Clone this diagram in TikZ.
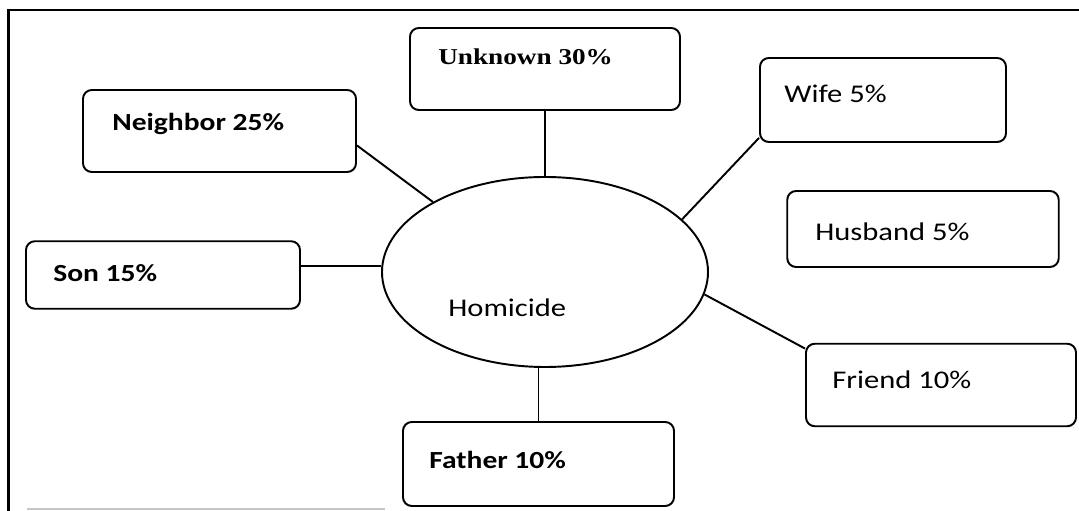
\documentclass[tikz,border=0pt]{standalone}
\usepackage{fontspec}
\usepackage{tikz}
\usetikzlibrary{calc, shapes, positioning}
\newfontfamily\calfont[FakeStretch=1.2]{Carlito}
\newfontfamily\camfont[FakeStretch=1.2]{Liberation Serif}
\tikzstyle{entry} = [rectangle, draw, line width=1.1pt, rounded corners=5pt]
\tikzstyle{boxtext} = [anchor=base west, inner sep=0pt, font=\calfont\fontsize{14.5}{17}\selectfont]
\tikzstyle{link} = [line width=1.1pt]

\begin{document}
\begin{tikzpicture}
        \useasboundingbox (0,0) rectangle (21.58,10.22);
        % frame of the scan
        \draw[line width=1.6pt] (0.17,0) -- (0.17,10.02) -- (21.58,10.02);
        \draw[gray!45, line width=1pt] (0.54,0.04) -- (7.7,0.04);

        \node[ellipse, draw, line width=1.1pt, minimum width=6.52cm, minimum height=3.8cm] at (10.9, 4.78) (homicide) {};
        \node[boxtext] at (8.96, 3.88) (homicide_t) {Homicide};

        \node[entry, minimum width=5.4cm, minimum height=1.64cm] at (10.9, 8.84) (unknown) {};
        \node[boxtext, font=\camfont\bfseries\fontsize{12.9}{15}\selectfont] at (8.76, 8.92) (unknown_t) {Unknown 30\%};
        \node[entry, minimum width=5.46cm, minimum height=1.64cm] at (4.39, 7.6) (neighbor) {};
        \node[boxtext, font=\calfont\bfseries\fontsize{14}{17}\selectfont] at (2.24, 7.6) (neighbor_t) {Neighbor 25\%};
        \node[entry, minimum width=4.92cm, minimum height=1.68cm] at (17.66, 8.22) (wife) {};
        \node[boxtext] at (15.68, 8.16) (wife_t) {Wife 5\%};
        \node[entry, minimum width=5.43cm, minimum height=1.52cm] at (18.46, 5.64) (husband) {};
        \node[boxtext] at (16.3, 5.4) (husband_t) {Husband 5\%};
        \node[entry, minimum width=5.48cm, minimum height=1.35cm] at (3.26, 4.72) (son) {};
        \node[boxtext, font=\calfont\bfseries\fontsize{14}{17}\selectfont] at (1.06, 4.58) (son_t) {Son 15\%};
        \node[entry, minimum width=5.42cm, minimum height=1.68cm] at (10.77, 0.94) (father) {};
        \node[boxtext, font=\calfont\bfseries\fontsize{14}{17}\selectfont] at (8.58, 0.84) (father_t) {Father 10\%};
        \node[entry, minimum width=5.4cm, minimum height=1.65cm] at (18.82, 2.52) (friend) {};
        \node[boxtext] at (16.64, 2.44) (friend_t) {Friend 10\%};

        \draw[link] (unknown) -- (homicide);
        \draw[link] (neighbor.-6) -- (homicide.148);
        \draw[link] (wife.197) -- (homicide.21);
        \draw[link] (homicide.178) -- (homicide.178 -| son.east);
        \draw[link] (father.north) -- (father.north |- homicide.south);
        \draw[link] (friend.165) -- (homicide.-8);
\end{tikzpicture}
\end{document}
